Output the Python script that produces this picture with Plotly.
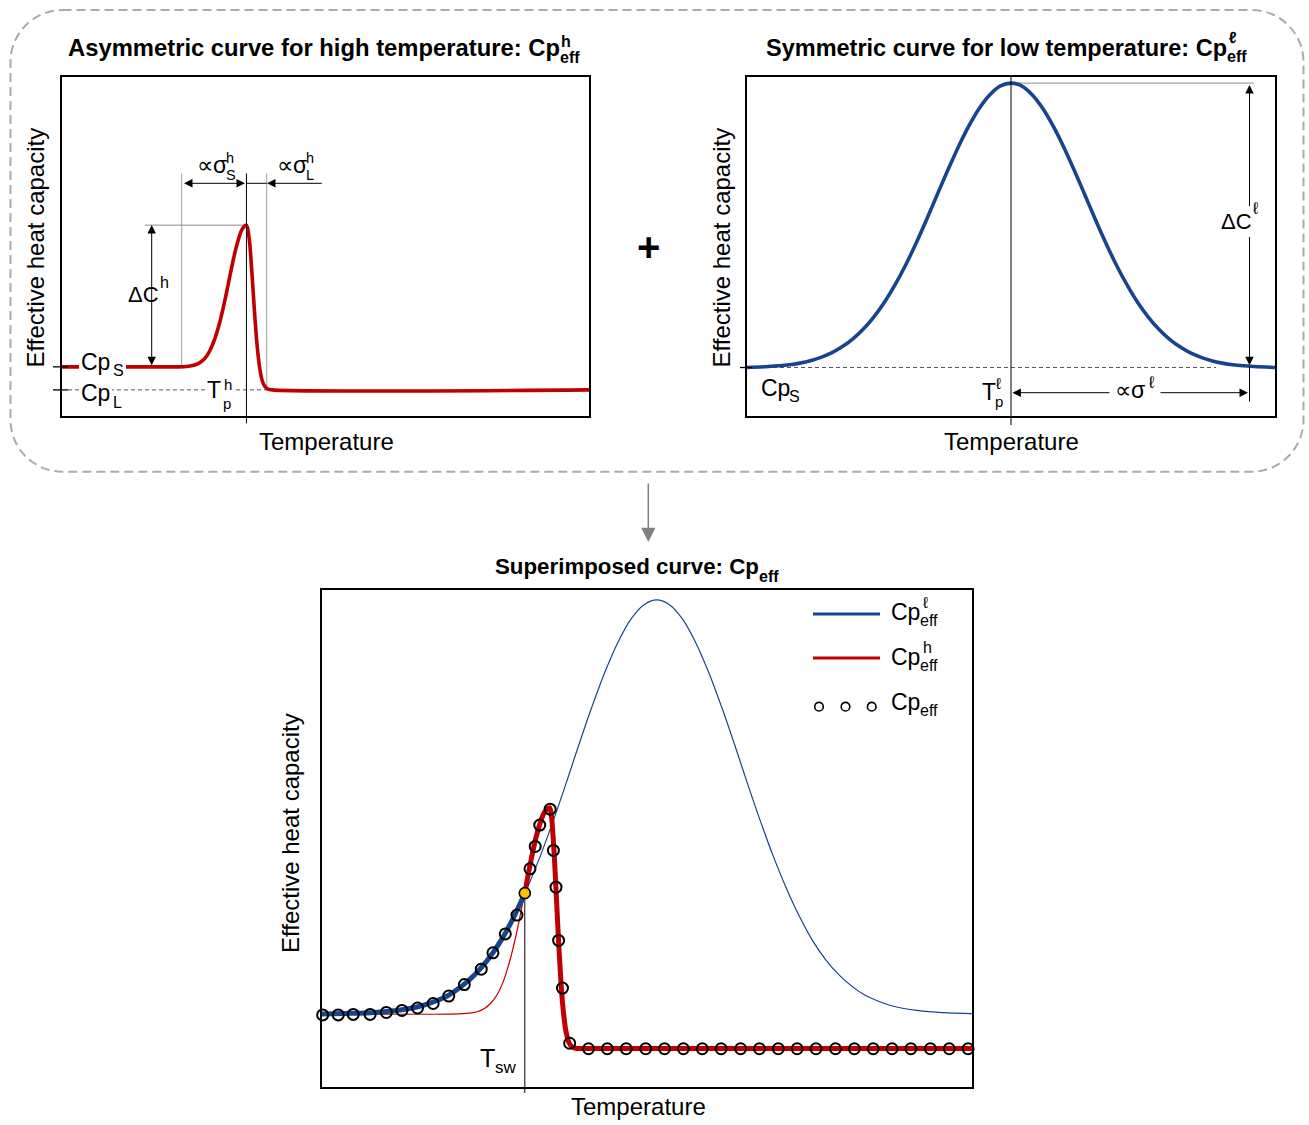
import plotly.graph_objects as go

W, H = 1309, 1125
FONT = "Liberation Sans, Arial, Helvetica, sans-serif"
RED = "#C00000"
BLUE = "#17448F"

# ---------------- data ----------------
# Panel A: asymmetric curve for high temperature
high_T = [0, 20, 22, 24, 25, 26, 27, 28, 29, 30, 31, 32, 33, 34, 34.5, 35,
          35.5, 36, 36.5, 37, 37.5, 38, 38.5, 39, 40, 100]
high_cp = [14.5, 14.5, 14.5, 14.7, 15.0, 15.6, 16.8, 19.1, 22.8, 28.0, 34.8, 42.4,
           49.4, 54.5, 55.8, 56.3, 52.6, 43.0, 31.4, 21.2, 14.3, 10.4, 8.7, 8.0, 7.7, 7.7]
high_cpS = 14.5
high_cpL = 7.7

# Panel B: symmetric curve for low temperature
low_T = [0] + list(range(4, 97, 2)) + [100]
low_cp = [14.3, 14.6, 14.8, 15.1, 15.6, 16.3, 17.3, 18.6, 20.4, 22.7, 25.6, 29.2,
          33.5, 38.6, 44.4, 50.9, 57.9, 65.2, 72.4, 79.3, 85.5, 90.8, 94.8, 97.4,
          98.2,
          97.4, 94.8, 90.8, 85.5, 79.3, 72.4, 65.2, 57.9, 50.9, 44.4, 38.6, 33.5,
          29.2, 25.6, 22.7, 20.4, 18.6, 17.3, 16.3, 15.6, 15.1, 14.8, 14.6, 14.3]
low_cpS = 14.3

# Panel C: superimposed curve
sup_low_T = [0, 3.5, 7.5, 11.5, 13.5, 15.5, 17.5, 19.5, 21.5, 23.5, 25.5, 27.5,
             29.5, 31.5, 33.5, 35.5, 37.5, 39.5, 41.5, 43.5, 45.5, 47.5, 49.5,
             51.5, 53.5, 55.5, 57.5, 59.5, 61.5, 63.5, 65.5, 67.5, 69.5, 71.5,
             73.5, 75.5, 77.5, 79.5, 81.5, 83.5, 85.5, 87.5, 89.5, 91.5, 95.5, 100]
sup_low_cp = [14.7, 14.8, 14.95, 15.4, 15.8, 16.4, 17.3, 18.5, 20.3, 22.6, 25.6,
              29.4, 34.2, 39.8, 46.2, 53.3, 60.9, 68.8, 76.4, 83.4, 89.4, 94.1,
              97.0, 98.0, 97.0, 94.1, 89.4, 83.4, 76.4, 68.8, 60.9, 53.3, 46.2,
              39.8, 34.2, 29.4, 25.6, 22.6, 20.3, 18.5, 17.3, 16.4, 15.8, 15.4,
              14.95, 14.75]
sup_high_T = [0, 21, 23, 24, 25, 26, 27, 28, 29, 30, 31, 32, 33, 34, 34.5, 35,
              35.25, 35.5, 35.75, 36, 36.25, 36.5, 36.75, 37, 37.25, 37.5, 38,
              38.5, 39, 40, 100]
sup_high_cp = [14.7, 14.73, 14.92, 15.2, 15.8, 16.9, 18.7, 21.6, 25.9, 31.4, 37.9,
               44.6, 50.6, 54.7, 55.8, 56.2, 55.0, 51.4, 46.2, 39.8, 33.1, 26.9,
               21.4, 17.0, 13.8, 11.4, 8.9, 8.05, 7.8, 7.75, 7.75]
eff_T = [0.1, 2.5, 4.8, 7.4, 9.9, 12.3, 14.7, 17.1, 19.5, 21.9, 24.5, 26.3, 28.2,
         30.0, 32.0, 32.8, 33.5, 35.1, 35.6, 36.0, 36.4, 37.0, 38.1,
         41.0, 43.9, 46.8, 49.8, 52.7, 55.6, 58.5, 61.4, 64.4, 67.3, 70.2, 73.1,
         76.0, 79.0, 81.9, 84.8, 87.7, 90.6, 93.6, 96.5, 99.4]
eff_cp = [14.5, 14.5, 14.6, 14.6, 15.0, 15.4, 15.9, 16.8, 18.3, 20.6, 23.7, 27.0,
          30.8, 34.6, 43.9, 48.4, 52.7, 55.9, 47.6, 40.2, 29.5, 19.9, 8.8] + [7.7] * 21
T_SW = 31.2
CP_SW = 39.0

# ---------------- helpers (layout only) ----------------
def PX(x):
    return x / W


def PY(y):
    return 1 - y / H


def T(x, y, s, size=23, bold=False, xa="center", ya="middle", bg=None, angle=0, pad=0):
    if bold:
        s = "<b>" + s + "</b>"
    return dict(xref="paper", yref="paper", x=PX(x), y=PY(y), text=s, showarrow=False,
                font=dict(family=FONT, size=size, color="black"), xanchor=xa, yanchor=ya,
                bgcolor=bg if bg else "rgba(0,0,0,0)", borderpad=pad, borderwidth=0,
                textangle=angle)


def arrow(xh, yh, xt, yt, both=False, color="black", width=1, size=1.7):
    return dict(xref="paper", yref="paper", x=PX(xh), y=PY(yh), ax=xt - xh, ay=yt - yh,
                axref="pixel", ayref="pixel", text="", showarrow=True, arrowhead=2,
                startarrowhead=2, arrowsize=size, startarrowsize=size, arrowwidth=width,
                arrowcolor=color, arrowside="end+start" if both else "end",
                standoff=0, startstandoff=0)


def pline(x0, y0, x1, y1, color="black", width=1, dash=None, layer="above"):
    ln = dict(color=color, width=width)
    if dash:
        ln["dash"] = dash
    return dict(type="line", xref="paper", yref="paper", x0=PX(x0), y0=PY(y0),
                x1=PX(x1), y1=PY(y1), line=ln, layer=layer)


def rrect(x0, y0, x1, y1, r):
    k = 0.5523 * r

    def p(x, y):
        return f"{PX(x):.5f},{PY(y):.5f}"
    d = (f"M{p(x0 + r, y0)} L{p(x1 - r, y0)} C{p(x1 - r + k, y0)} {p(x1, y0 + r - k)} {p(x1, y0 + r)} "
         f"L{p(x1, y1 - r)} C{p(x1, y1 - r + k)} {p(x1 - r + k, y1)} {p(x1 - r, y1)} "
         f"L{p(x0 + r, y1)} C{p(x0 + r - k, y1)} {p(x0, y1 - r + k)} {p(x0, y1 - r)} "
         f"L{p(x0, y0 + r)} C{p(x0, y0 + r - k)} {p(x0 + r - k, y0)} {p(x0 + r, y0)} Z")
    return dict(type="path", xref="paper", yref="paper", path=d,
                line=dict(color="#ABABAB", width=2, dash="9px,5px"), layer="below")


# ---------------- traces ----------------
fig = go.Figure()
fig.add_trace(go.Scatter(x=high_T, y=high_cp, mode="lines", xaxis="x", yaxis="y",
                         line=dict(color=RED, width=3.6, shape="spline"), name="Cp_eff^h"))
fig.add_trace(go.Scatter(x=low_T, y=low_cp, mode="lines", xaxis="x2", yaxis="y2",
                         line=dict(color=BLUE, width=3.6, shape="spline"), name="Cp_eff^l"))

fig.add_trace(go.Scatter(x=sup_low_T, y=sup_low_cp, mode="lines", xaxis="x3", yaxis="y3",
                         line=dict(color=BLUE, width=1.2, shape="spline")))
fig.add_trace(go.Scatter(x=sup_high_T, y=sup_high_cp, mode="lines", xaxis="x3", yaxis="y3",
                         line=dict(color=RED, width=1.2, shape="spline")))
thick_b_T = [t for t in sup_low_T if t < T_SW] + [T_SW]
thick_b_cp = [c for t, c in zip(sup_low_T, sup_low_cp) if t < T_SW] + [CP_SW]
thick_r_T = [T_SW] + [t for t in sup_high_T if t > T_SW]
thick_r_cp = [CP_SW] + [c for t, c in zip(sup_high_T, sup_high_cp) if t > T_SW]
fig.add_trace(go.Scatter(x=thick_b_T, y=thick_b_cp, mode="lines", xaxis="x3", yaxis="y3",
                         line=dict(color=BLUE, width=5, shape="spline")))
fig.add_trace(go.Scatter(x=thick_r_T, y=thick_r_cp, mode="lines", xaxis="x3", yaxis="y3",
                         line=dict(color=RED, width=5, shape="spline")))
fig.add_trace(go.Scatter(x=eff_T, y=eff_cp, mode="markers", xaxis="x3", yaxis="y3",
                         cliponaxis=False,
                         marker=dict(symbol="circle-open", size=11, color="black",
                                     line=dict(width=2, color="black"))))
fig.add_trace(go.Scatter(x=[T_SW], y=[CP_SW], mode="markers", xaxis="x3", yaxis="y3",
                         marker=dict(symbol="circle", size=11, color="#FFC000",
                                     line=dict(width=1.6, color="black"))))

# ---------------- axes ----------------
common = dict(range=[0, 100], showgrid=False, zeroline=False, showticklabels=False,
              ticks="", showline=True, mirror=True, linecolor="black", linewidth=1.8,
              fixedrange=True)
A = (62, 589, 77, 416)
B = (747, 1275, 77, 416)
C = (322, 972, 590, 1087)
fig.update_layout(
    xaxis=dict(domain=[PX(A[0]), PX(A[1])], anchor="y", **common),
    yaxis=dict(domain=[PY(A[3]), PY(A[2])], anchor="x", **common),
    xaxis2=dict(domain=[PX(B[0]), PX(B[1])], anchor="y2", **common),
    yaxis2=dict(domain=[PY(B[3]), PY(B[2])], anchor="x2", **common),
    xaxis3=dict(domain=[PX(C[0]), PX(C[1])], anchor="y3", **common),
    yaxis3=dict(domain=[PY(C[3]), PY(C[2])], anchor="x3", **common),
)

tpA = high_T[high_cp.index(max(high_cp))]
tpB = low_T[low_cp.index(max(low_cp))]

shapes = [rrect(10.5, 10, 1303.5, 471.7, 52)]
# panel A decorations
shapes += [
    dict(type="line", xref="paper", yref="y", x0=PX(53), x1=PX(68), y0=high_cpS, y1=high_cpS,
         line=dict(color="black", width=1.3)),
    dict(type="line", xref="paper", yref="y", x0=PX(53), x1=PX(68), y0=high_cpL, y1=high_cpL,
         line=dict(color="black", width=1.3)),
    dict(type="line", xref="paper", yref="y", x0=PX(68), x1=PX(267), y0=high_cpL, y1=high_cpL,
         line=dict(color="#555555", width=1, dash="4px,3px"), layer="below"),
    pline(181.7, 173.3, 181.7, 366.7, "#A0A0A0", 1, layer="below"),
    pline(266.7, 173.3, 266.7, 390, "#A0A0A0", 1, layer="below"),
    dict(type="line", xref="x", yref="paper", x0=tpA, x1=tpA, y0=PY(173.3), y1=PY(423.3),
         line=dict(color="black", width=1)),
    dict(type="line", xref="paper", yref="y", x0=PX(145), x1=PX(247), y0=max(high_cp),
         y1=max(high_cp), line=dict(color="#8C8C8C", width=1), layer="below"),
    pline(246, 183.3, 266.7, 183.3, "black", 1),
]
# panel B decorations
shapes += [
    dict(type="line", xref="paper", yref="y2", x0=PX(740), x1=PX(752), y0=low_cpS, y1=low_cpS,
         line=dict(color="black", width=1.3)),
    dict(type="line", xref="paper", yref="y2", x0=PX(752), x1=PX(1216), y0=low_cpS, y1=low_cpS,
         line=dict(color="#555555", width=1, dash="4px,3px"), layer="below"),
    dict(type="line", xref="x2", yref="paper", x0=tpB, x1=tpB, y0=PY(77), y1=PY(425),
         line=dict(color="black", width=1)),
    dict(type="line", xref="paper", yref="y2", x0=PX(1012), x1=PX(1254), y0=max(low_cp),
         y1=max(low_cp), line=dict(color="#8C8C8C", width=1), layer="below"),
    pline(1249.5, 366.7, 1249.5, 401.7, "black", 1),
]
# panel C decorations
shapes += [
    dict(type="line", xref="x3", yref="paper", x0=T_SW, x1=T_SW, y0=PY(893.3), y1=PY(1093),
         line=dict(color="black", width=1), layer="below"),
    pline(813, 614, 880, 614, BLUE, 3),
    pline(813, 658, 880, 658, RED, 3),
]
for cx in (819, 845.5, 871.7):
    r = 4.3
    shapes.append(dict(type="circle", xref="paper", yref="paper", x0=PX(cx - r), x1=PX(cx + r),
                       y0=PY(706.7 + r), y1=PY(706.7 - r), line=dict(color="black", width=1.6)))

ann = []
# titles
ann += [
    T(560, 47.5, "Asymmetric curve for high temperature: Cp", 23.8, True, xa="right"),
    T(559.5, 57.5, "eff", 16, True, xa="left"),
    T(561, 41.5, "h", 16, True, xa="left"),
    T(1227, 47.5, "Symmetric curve for low temperature: Cp", 23.5, True, xa="right"),
    T(1226.5, 56.5, "eff", 16, True, xa="left"),
    T(1229, 37.5, "ℓ", 16, True, xa="left"),
    T(759, 566, "Superimposed curve: Cp", 22.3, True, xa="right"),
    T(758.5, 576, "eff", 16, True, xa="left"),
    T(648, 247, "+", 40, True),
]
# panel A labels
ann += [
    T(35, 247.5, "Effective heat capacity", 24, angle=-90),
    T(326, 441.7, "Temperature", 24),
    T(111.7, 361.5, "Cp", 23, xa="right", bg="white", pad=2),
    T(111, 370, "S", 16, xa="left", bg="white", pad=2),
    T(112, 393.3, "Cp", 23, xa="right", bg="white", pad=2),
    T(111, 402.5, "L", 16, xa="left", bg="white", pad=2),
    T(223, 390, "T", 23, xa="right", bg="white", pad=2),
    T(222, 403, "p", 15, xa="left", bg="white", pad=1),
    T(222.5, 384.5, "h", 15, xa="left", bg="white", pad=1),
    T(162, 294.2, "ΔC", 22, xa="right", bg="white", pad=3),
    T(159.5, 282.5, "h", 16, xa="left"),
    T(226.7, 165, "∝σ", 23, xa="right"),
    T(225.5, 175, "S", 14.5, xa="left"),
    T(226, 157.5, "h", 14.5, xa="left"),
    T(306.7, 165, "∝σ", 23, xa="right"),
    T(305.5, 175, "L", 14.5, xa="left"),
    T(306, 157.5, "h", 14.5, xa="left"),
]
ann += [
    arrow(151.7, 225, 151.7, 366.7, both=True),
    arrow(245, 183.3, 182.5, 183.3, both=True),
    arrow(267, 183.3, 323.3, 183.3),
]
# panel B labels
ann += [
    T(721, 247.5, "Effective heat capacity", 24, angle=-90),
    T(1011, 441.7, "Temperature", 24),
    T(789.5, 388.3, "Cp", 23, xa="right"),
    T(789, 396, "S", 16, xa="left"),
    T(995.5, 391.7, "T", 23, xa="right"),
    T(994.5, 402, "p", 15, xa="left"),
    T(995.5, 383, "ℓ", 16, xa="left"),
    arrow(1249.5, 85, 1249.5, 366.7, both=True),
    arrow(1012.4, 392.7, 1111, 392.7),
    arrow(1248, 392.7, 1159, 392.7),
    T(1147, 390, "∝σ", 23, xa="right", bg="white", pad=2),
    T(1146, 382.5, "ℓ", 17, xa="left", bg="white", pad=2),
    T(1255, 221.7, "ΔC", 22, xa="right", bg="white", pad=3),
    T(1251.5, 208.3, "ℓ", 17, xa="left"),
]
# panel C labels
ann += [
    T(290, 833, "Effective heat capacity", 24, angle=-90),
    T(638, 1106.8, "Temperature", 24),
    T(920, 611.7, "Cp", 23, xa="right"),
    T(919.5, 620, "eff", 16, xa="left"),
    T(923, 602, "ℓ", 16, xa="left"),
    T(920, 656.7, "Cp", 23, xa="right"),
    T(919.5, 665.5, "eff", 16, xa="left"),
    T(923, 647.5, "h", 16, xa="left"),
    T(920, 701.7, "Cp", 23, xa="right"),
    T(919.5, 710.5, "eff", 16, xa="left"),
    T(495, 1058, "T", 25, xa="right"),
    T(494.5, 1067.5, "sw", 17, xa="left"),
]
# arrow between the two rows
ann.append(arrow(648.3, 542, 648.3, 482, color="#808080", width=1.5, size=1.9))

fig.update_layout(width=W, height=H, margin=dict(l=0, r=0, t=0, b=0),
                  paper_bgcolor="white", plot_bgcolor="white", showlegend=False,
                  hovermode=False, shapes=shapes, annotations=ann)

fig.write_html("out.html", config={"displayModeBar": False},
               post_script="document.body.style.margin='0';")
